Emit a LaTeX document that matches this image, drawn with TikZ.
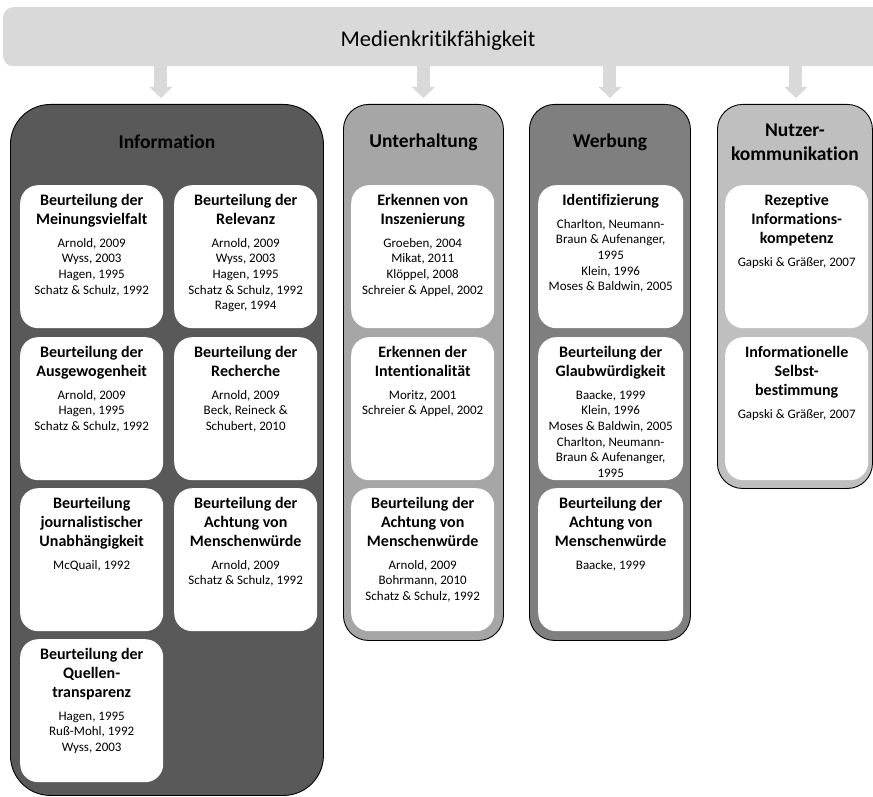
\documentclass[tikz,border=0pt]{standalone}
\usepackage{fontspec}
\setmainfont{Carlito}[Ligatures=NoCommon]
\usetikzlibrary{calc,arrows.meta}
\definecolor{barc}{HTML}{D9D9D9}
\definecolor{infoc}{HTML}{595959}
\definecolor{unterc}{HTML}{A6A6A6}
\definecolor{werbc}{HTML}{7F7F7F}
\definecolor{nutzc}{HTML}{BFBFBF}
\newcommand\cardtxt[2]{\begin{minipage}{141pt}\centering{\fontsize{16}{19}\selectfont\bfseries #1\par}\vspace{7pt}{\fontsize{13}{15.7}\selectfont #2\par}\end{minipage}}
\begin{document}
\begin{tikzpicture}[x=1pt,y=-1pt,
  colbox/.style={draw=black, line width=0.9pt, anchor=north west, inner sep=0pt, rounded corners=25pt},
  card/.style={fill=white, draw=none, anchor=north west, inner sep=0pt, rounded corners=18pt, minimum width=143pt, minimum height=143pt},
  ctext/.style={anchor=north, inner sep=0pt},
  hdr/.style={font=\fontsize{19.5}{23.5}\selectfont\bfseries, align=center, inner sep=0pt},
  arr/.style={draw=barc, line width=13pt, -{Triangle[width=23pt,length=11pt,line width=0pt]}}]
\useasboundingbox (0,0) rectangle (873,797);
% top bar
\node[fill=barc, draw=none, anchor=north west, inner sep=0pt, rounded corners=10pt, minimum width=880pt, minimum height=59pt] (topbar) at (3,7) {};
\node[font=\fontsize{22.5}{27}\selectfont, anchor=base, inner sep=0pt] (ttl) at (438,47) {Medienkritikfähigkeit};
% columns
\node[colbox, fill=infoc, rounded corners=40pt, minimum width=313pt, minimum height=691pt] (info) at (10,104) {};
\node[colbox, fill=unterc, minimum width=160pt, minimum height=536pt] (unter) at (343,104) {};
\node[colbox, fill=werbc, minimum width=161pt, minimum height=536pt] (werb) at (529,104) {};
\node[colbox, fill=nutzc, minimum width=155pt, minimum height=384pt] (nutz) at (717,104) {};
% arrows
\coordinate (aI) at ($(info.north)+(-6,0)$);
\coordinate (aU) at (unter.north);
\coordinate (aW) at (werb.north);
\coordinate (aN) at ($(nutz.north)+(1,0)$);
\foreach \a in {aI,aU,aW,aN}{
  \draw[arr] ($(\a |- topbar.south)+(0,-1)$) -- ($(\a)+(0,-6)$);
}
% headers
\node[hdr] (hI) at ($(info.north)+(0,38)$) {Information};
\node[hdr] (hU) at ($(unter.north)+(0,38)$) {Unterhaltung};
\node[hdr] (hW) at ($(werb.north)+(0,38)$) {Werbung};
\node[hdr] (hN) at ($(nutz.north)+(0,38)$) {Nutzer-\\kommunikation};
% Information cards
\node[card] (i11) at (20,185) {};
\node[card] (i12) at (174,185) {};
\node[card] (i21) at (20,337) {};
\node[card] (i22) at (174,337) {};
\node[card] (i31) at (20,488) {};
\node[card] (i32) at (174,488) {};
\node[card] (i41) at (20,639) {};
\node[ctext] at ($(i11.north)+(0,9)$) {\cardtxt{Beurteilung der\\Meinungsvielfalt}{Arnold, 2009\\Wyss, 2003\\Hagen, 1995\\Schatz \& Schulz, 1992}};
\node[ctext] at ($(i12.north)+(0,9)$) {\cardtxt{Beurteilung der\\Relevanz}{Arnold, 2009\\Wyss, 2003\\Hagen, 1995\\Schatz \& Schulz, 1992\\Rager, 1994}};
\node[ctext] at ($(i21.north)+(0,9)$) {\cardtxt{Beurteilung der\\Ausgewogenheit}{Arnold, 2009\\Hagen, 1995\\Schatz \& Schulz, 1992}};
\node[ctext] at ($(i22.north)+(0,9)$) {\cardtxt{Beurteilung der\\Recherche}{Arnold, 2009\\Beck, Reineck \&\\Schubert, 2010}};
\node[ctext] at ($(i31.north)+(0,9)$) {\cardtxt{Beurteilung\\journalistischer\\Unabhängigkeit}{McQuail, 1992}};
\node[ctext] at ($(i32.north)+(0,9)$) {\cardtxt{Beurteilung der\\Achtung von\\Menschenwürde}{Arnold, 2009\\Schatz \& Schulz, 1992}};
\node[ctext] at ($(i41.north)+(0,9)$) {\cardtxt{Beurteilung der\\Quellen-\\transparenz}{Hagen, 1995\\Ruß-Mohl, 1992\\Wyss, 2003}};
% Unterhaltung cards
\node[card] (u1) at (351,185) {};
\node[card] (u2) at (351,337) {};
\node[card] (u3) at (351,488) {};
\node[ctext] at ($(u1.north)+(0,9)$) {\cardtxt{Erkennen von\\Inszenierung}{Groeben, 2004\\Mikat, 2011\\Klöppel, 2008\\Schreier \& Appel, 2002}};
\node[ctext] at ($(u2.north)+(0,9)$) {\cardtxt{Erkennen der\\Intentionalität}{Moritz, 2001\\Schreier \& Appel, 2002}};
\node[ctext] at ($(u3.north)+(0,9)$) {\cardtxt{Beurteilung der\\Achtung von\\Menschenwürde}{Arnold, 2009\\Bohrmann, 2010\\Schatz \& Schulz, 1992}};
% Werbung cards
\node[card, minimum width=145pt] (w1) at (538,185) {};
\node[card, minimum width=145pt] (w2) at (538,337) {};
\node[card, minimum width=145pt] (w3) at (538,488) {};
\node[ctext] at ($(w1.north)+(0,9)$) {\cardtxt{Identifizierung}{Charlton, Neumann-\\Braun \& Aufenanger,\\1995\\Klein, 1996\\Moses \& Baldwin, 2005}};
\node[ctext] at ($(w2.north)+(0,9)$) {\cardtxt{Beurteilung der\\Glaubwürdigkeit}{Baacke, 1999\\Klein, 1996\\Moses \& Baldwin, 2005\\Charlton, Neumann-\\Braun \& Aufenanger,\\1995}};
\node[ctext] at ($(w3.north)+(0,9)$) {\cardtxt{Beurteilung der\\Achtung von\\Menschenwürde}{Baacke, 1999}};
% Nutzerkommunikation cards
\node[card] (n1) at (725,185) {};
\node[card] (n2) at (725,337) {};
\node[ctext] at ($(n1.north)+(0,9)$) {\cardtxt{Rezeptive\\Informations-\\kompetenz}{Gapski \& Gräßer, 2007}};
\node[ctext] at ($(n2.north)+(0,9)$) {\cardtxt{Informationelle\\Selbst-\\bestimmung}{Gapski \& Gräßer, 2007}};
\end{tikzpicture}
\end{document}
